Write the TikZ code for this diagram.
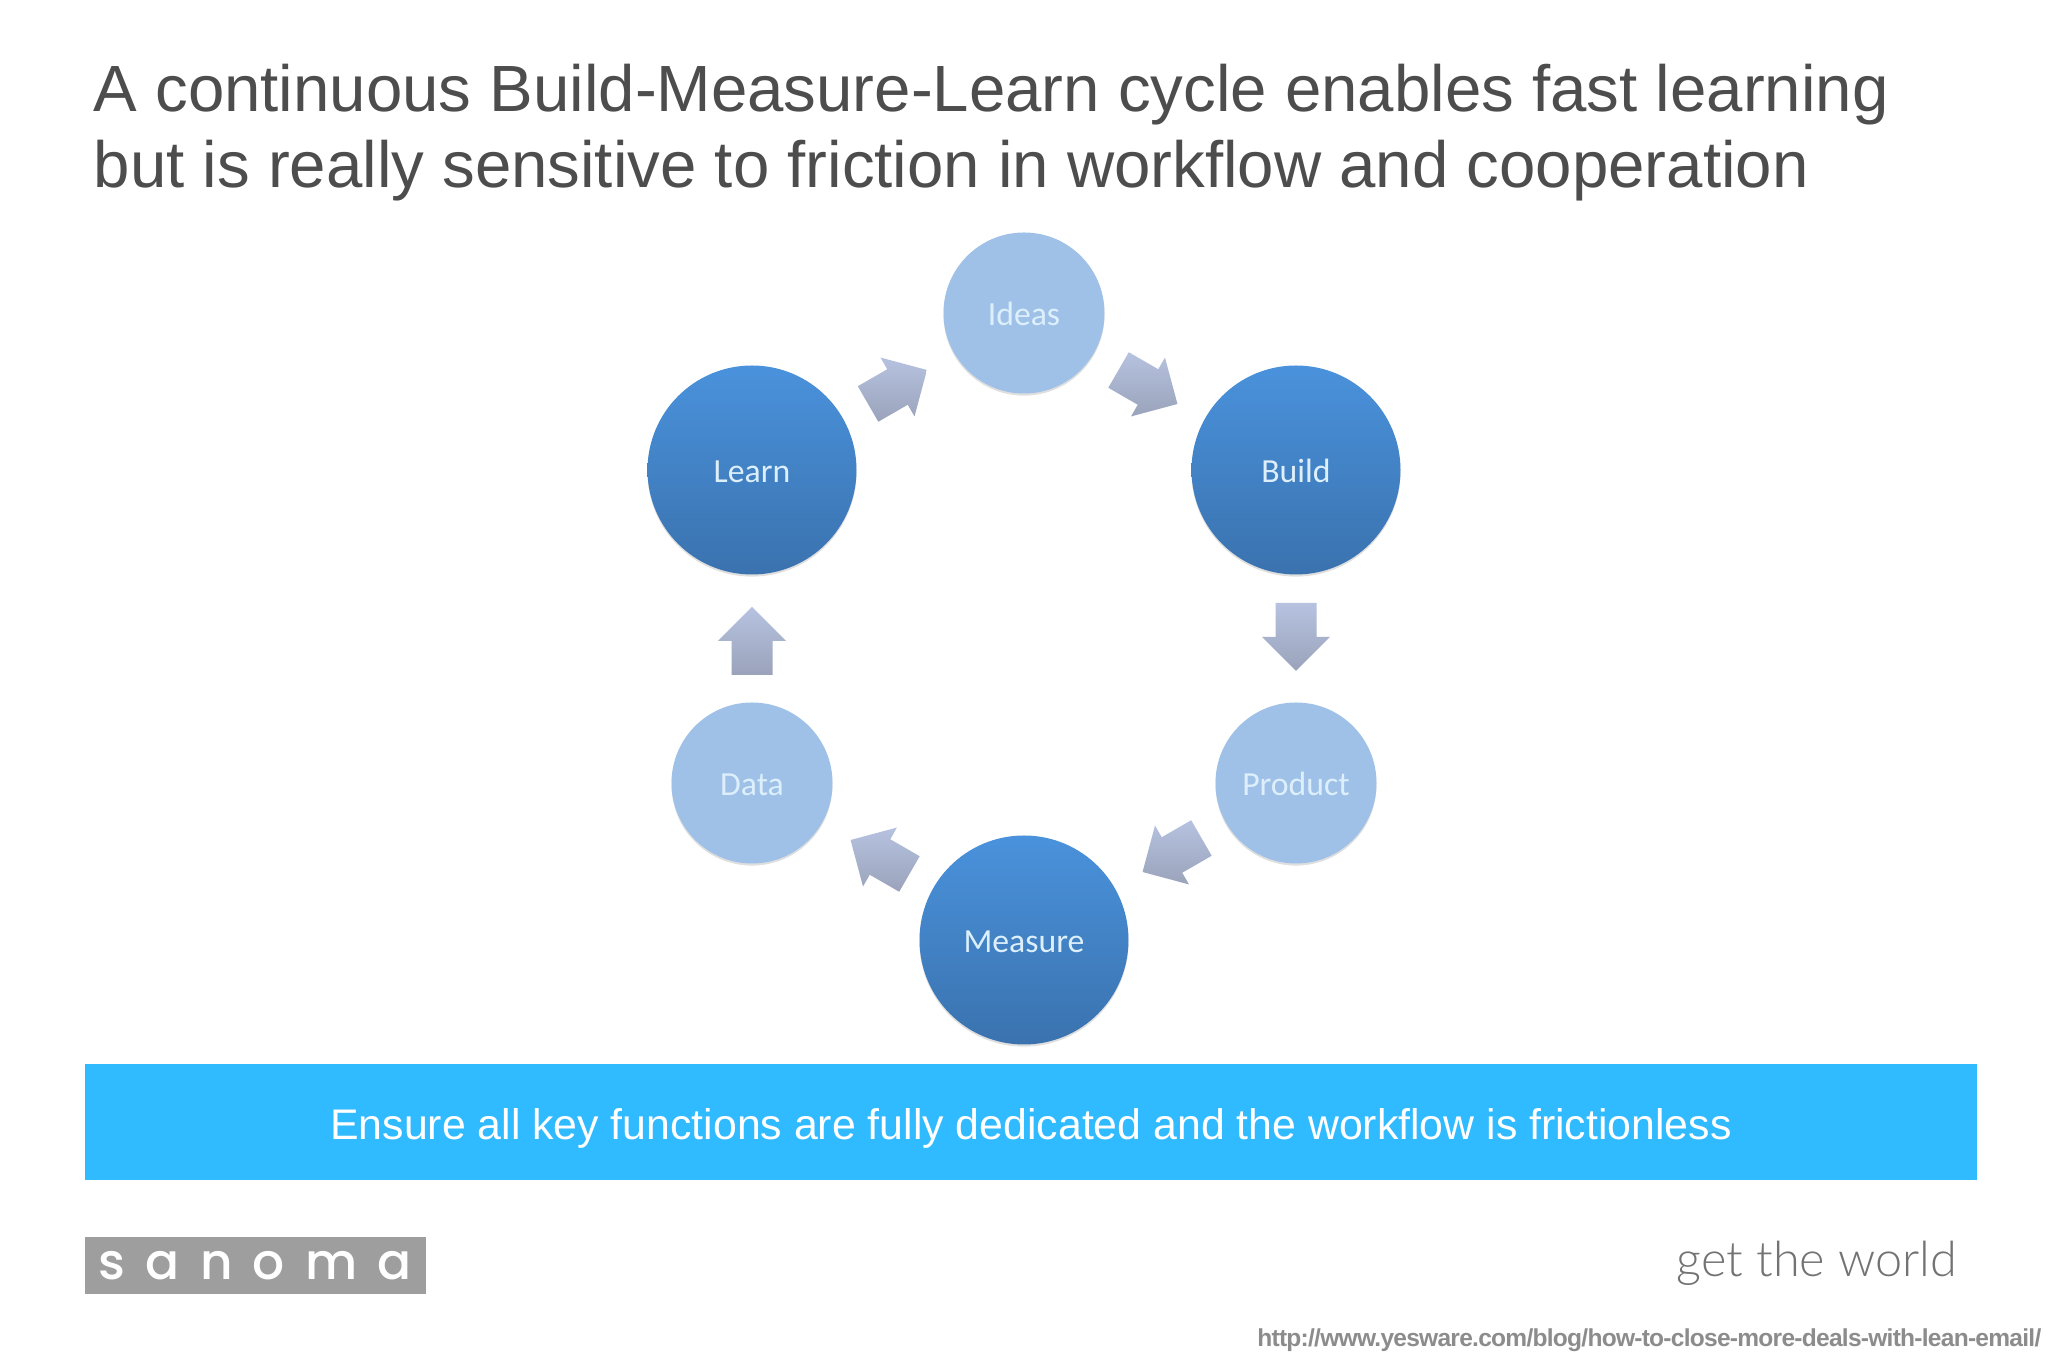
\documentclass[tikz,border=0pt]{standalone}
\usepackage{fontspec}
\setmainfont{Liberation Sans}
\newfontfamily\circlefont{Carlito}
\newfontfamily\logofont{Poppins Medium}
\newfontfamily\sloganfont{Lato Light}
\usetikzlibrary{shadows}
\definecolor{bigtop}{HTML}{4A92DC}
\definecolor{bigbot}{HTML}{3A72AE}
\definecolor{smallfill}{HTML}{9FC1E8}
\definecolor{circletext}{HTML}{DCEFFB}
\definecolor{arrowtop}{HTML}{B6C2E0}
\definecolor{arrowbot}{HTML}{9AA3BA}
\definecolor{barblue}{HTML}{30BAFF}
\definecolor{titlegray}{HTML}{4D4D4D}
\tikzset{
  circlelabel/.style={inner sep=0pt,text height=8.4pt,text depth=1pt,text=circletext,font=\circlefont\fontsize{9.6}{11}\selectfont,
    drop shadow={shadow xshift=0pt,shadow yshift=-0.6pt,opacity=.25,fill=gray}},
  bigcircle/.style={circle,minimum size=2.09cm,top color=bigtop,bottom color=bigbot,circlelabel},
  smallcircle/.style={circle,minimum size=1.61cm,fill=smallfill,circlelabel},
  blockarrow/.pic={\shade[top color=arrowtop,bottom color=arrowbot] (-.34,-.205) -- (0,-.205) -- (0,-.34) -- (.34,0) -- (0,.34) -- (0,.205) -- (-.34,.205) -- cycle;}
}

\begin{document}
\begin{tikzpicture}
     \useasboundingbox (0,0) rectangle (20.48,13.65);
     \fill[white] (0,0) rectangle (20.48,13.65);
     \node[anchor=base west,inner sep=0pt,text=titlegray,font=\fontsize{18.6}{21.9}\selectfont,align=left] (title) at (0.93,11.77)
       {A continuous Build-Measure-Learn cycle enables fast learning\\but is really sensitive to friction in workflow and cooperation};

     \node[bigcircle] (learn) at (7.52,8.95) {Learn};
     \node[bigcircle] (build) at (12.96,8.95) {Build};
     \node[bigcircle] (measure) at (10.24,4.25) {Measure};
     \node[smallcircle] (ideas) at (10.24,10.52) {Ideas};
     \node[smallcircle] (product) at (12.96,5.82) {Product};
     \node[smallcircle] (data) at (7.52,5.82) {Data};

     \pic[rotate=30] (learnideas) at (8.975,9.78) {blockarrow};
     \pic[rotate=-30] (ideasbuild) at (11.48,9.78) {blockarrow};
     \pic[rotate=-90] (buildproduct) at (12.96,7.28) {blockarrow};
     \pic[rotate=210] (productmeasure) at (11.72,5.10) {blockarrow};
     \pic[rotate=150] (measuredata) at (8.80,5.08) {blockarrow};
     \pic[rotate=90] (datalearn) at (7.52,7.24) {blockarrow};

     \fill[barblue] (0.85,3.01) rectangle (19.77,1.85);
     \node[text=white,inner sep=0pt,font=\fontsize{12.18}{14}\selectfont] (banner) at (10.31,2.37)
       {Ensure all key functions are fully dedicated and the workflow is frictionless};

     \node[fill=black!38,minimum width=3.41cm,minimum height=0.57cm,inner sep=0pt,anchor=north west,text=white] (logo) at (0.84,1.29)
       {\logofont\fontsize{14.3}{15}\selectfont\addfontfeature{LetterSpace=40}sanoma};
     \node[anchor=base east,inner sep=0pt,text=black!55,font=\sloganfont\fontsize{13.85}{15}\selectfont] (slogan) at (19.58,0.88) {get the world};
     \node[anchor=base east,inner sep=0pt,text=black!45,font=\bfseries\fontsize{6.98}{8}\selectfont] (source) at (20.42,0.18)
       {\addfontfeature{LetterSpace=-3}http://www.yesware.com/blog/how-to-close-more-deals-with-lean-email/};
\end{tikzpicture}
\end{document}
